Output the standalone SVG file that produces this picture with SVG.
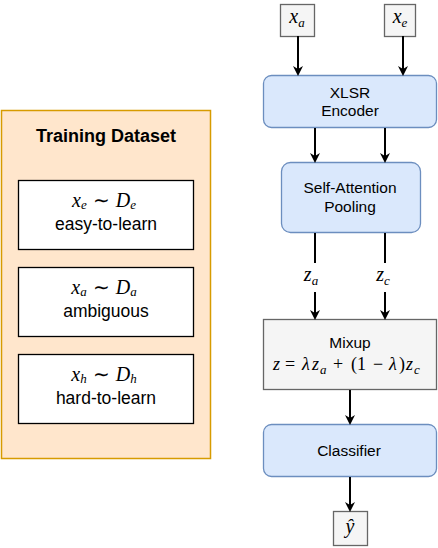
<svg xmlns="http://www.w3.org/2000/svg" width="438" height="548" viewBox="0 0 438 548">
<style>
.sans{font-family:"Liberation Sans",Arial,sans-serif;font-size:15.5px;fill:#000;text-anchor:middle}
.lab{font-size:17.5px}
.math{font-family:"Liberation Serif","Times New Roman",serif;font-style:italic;font-size:20px;fill:#000}
.mid{text-anchor:middle}
.m18{font-size:18px}
.sub{font-size:13px}
.mr{font-style:normal}
.blue{fill:#dae8fc;stroke:#6c8ebf;stroke-width:1.3}
.gray{fill:#f5f5f5;stroke:#666666;stroke-width:1.3}
.white{fill:#ffffff;stroke:#000;stroke-width:1.3}
.edge{stroke:#000;stroke-width:2;fill:none}
</style>
<defs>
<marker id="ah" markerWidth="10" markerHeight="10" refX="8" refY="5" orient="auto" markerUnits="userSpaceOnUse">
<path d="M0,0 L10,5 L0,10 L3,5 Z" fill="#000"/>
</marker>
</defs>
<g id="dataset">
<rect x="1.5" y="110.5" width="209" height="348" fill="#ffe6cc" stroke="#d79b00" stroke-width="1.5"/>
<text x="106" y="142" class="sans" style="font-weight:bold;font-size:18px">Training Dataset</text>
</g>
<g id="easy">
<rect x="18.5" y="180.5" width="175" height="69" class="white"/>
<text x="104" y="207" class="math mid">x<tspan class="sub" dy="2">e</tspan><tspan class="mr" dx="6" dy="-2">∼</tspan><tspan dx="6">D</tspan><tspan class="sub" dy="2">e</tspan></text>
<text x="106" y="230" class="sans lab">easy-to-learn</text>
</g>
<g id="ambiguous">
<rect x="18.5" y="267.5" width="175" height="69" class="white"/>
<text x="104" y="294" class="math mid">x<tspan class="sub" dy="2">a</tspan><tspan class="mr" dx="6" dy="-2">∼</tspan><tspan dx="6">D</tspan><tspan class="sub" dy="2">a</tspan></text>
<text x="106" y="317" class="sans lab">ambiguous</text>
</g>
<g id="hard">
<rect x="18.5" y="354.5" width="175" height="69" class="white"/>
<text x="104" y="381" class="math mid">x<tspan class="sub" dy="2">h</tspan><tspan class="mr" dx="6" dy="-2">∼</tspan><tspan dx="6">D</tspan><tspan class="sub" dy="2">h</tspan></text>
<text x="106" y="404" class="sans lab">hard-to-learn</text>
</g>
<g id="xa">
<rect x="280.5" y="4.5" width="34" height="32" class="gray"/>
<text x="297" y="23" class="math mid">x<tspan class="sub" dy="4">a</tspan></text>
</g>
<g id="xe">
<rect x="384.5" y="4.5" width="31" height="32" class="gray"/>
<text x="400" y="23" class="math mid">x<tspan class="sub" dy="4">e</tspan></text>
</g>
<g id="encoder">
<rect x="263.5" y="75.5" width="173" height="52" rx="8" class="blue"/>
<text x="350" y="98" class="sans">XLSR</text>
<text x="350" y="116" class="sans">Encoder</text>
</g>
<g id="pooling">
<rect x="281.5" y="162.5" width="139" height="70" rx="9" class="blue"/>
<text x="350" y="193" class="sans">Self-Attention</text>
<text x="350" y="212" class="sans">Pooling</text>
</g>
<g id="mixup">
<rect x="263.5" y="319.5" width="173" height="70" class="gray"/>
<text x="350" y="348" class="sans">Mixup</text>
<text class="math m18"><tspan x="273" y="370">z</tspan><tspan class="mr" x="285" y="370">=</tspan><tspan x="302" y="370">λ</tspan><tspan x="312" y="370">z</tspan><tspan class="sub" x="320" y="374">a</tspan><tspan class="mr" x="333" y="370">+</tspan><tspan class="mr" x="351" y="370">(</tspan><tspan class="mr" x="357" y="370">1</tspan><tspan class="mr" x="373" y="370">−</tspan><tspan x="389" y="370">λ</tspan><tspan class="mr" x="399" y="370">)</tspan><tspan x="406" y="370">z</tspan><tspan class="sub" x="414" y="374">c</tspan></text>
</g>
<g id="classifier">
<rect x="263.5" y="424.5" width="173" height="52" rx="8" class="blue"/>
<text x="349" y="456" class="sans">Classifier</text>
</g>
<g id="yhat">
<rect x="333.5" y="511.5" width="34" height="34" class="gray"/>
<text x="350" y="533" class="math mid">ŷ</text>
</g>
<g id="labels">
<text x="311" y="281" class="math mid">z<tspan class="sub" dy="4">a</tspan></text>
<text x="383" y="281" class="math mid">z<tspan class="sub" dy="4">c</tspan></text>
</g>
<g id="connectors">
<line x1="298" y1="36" x2="298" y2="74" class="edge" marker-end="url(#ah)"/>
<line x1="403" y1="36" x2="403" y2="74" class="edge" marker-end="url(#ah)"/>
<line x1="315" y1="128" x2="315" y2="161" class="edge" marker-end="url(#ah)"/>
<line x1="385" y1="128" x2="385" y2="161" class="edge" marker-end="url(#ah)"/>
<line x1="315" y1="233" x2="315" y2="263" class="edge"/>
<line x1="385" y1="233" x2="385" y2="263" class="edge"/>
<line x1="315" y1="292" x2="315" y2="318" class="edge" marker-end="url(#ah)"/>
<line x1="385" y1="292" x2="385" y2="318" class="edge" marker-end="url(#ah)"/>
<line x1="350" y1="390" x2="350" y2="423" class="edge" marker-end="url(#ah)"/>
<line x1="350" y1="477" x2="350" y2="510" class="edge" marker-end="url(#ah)"/>
</g>
</svg>
